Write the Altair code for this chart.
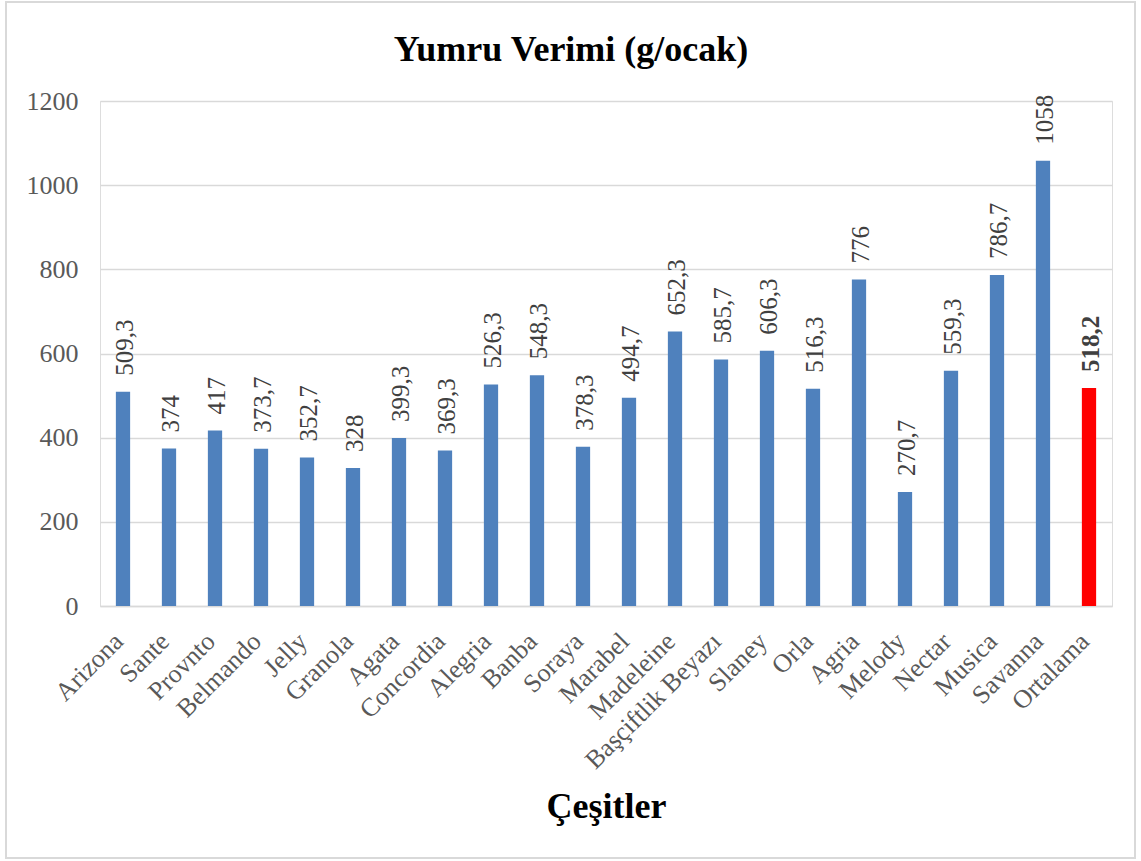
import altair as alt
import pandas as pd

categories = ["Arizona", "Sante", "Provnto", "Belmando", "Jelly", "Granola", "Agata",
              "Concordia", "Alegria", "Banba", "Soraya", "Marabel", "Madeleine",
              "Başçiftlik Beyazı", "Slaney", "Orla", "Agria", "Melody", "Nectar",
              "Musica", "Savanna", "Ortalama"]
values = [509.3, 374, 417, 373.7, 352.7, 328, 399.3, 369.3, 526.3, 548.3, 378.3,
          494.7, 652.3, 585.7, 606.3, 516.3, 776, 270.7, 559.3, 786.7, 1058, 518.2]
labels = ["509,3", "374", "417", "373,7", "352,7", "328", "399,3", "369,3", "526,3",
          "548,3", "378,3", "494,7", "652,3", "585,7", "606,3", "516,3", "776", "270,7",
          "559,3", "786,7", "1058", "518,2"]
groups = ["Çeşit"] * 21 + ["Ortalama"]

df = pd.DataFrame({"cat": categories, "val": values, "lab": labels, "grp": groups})

FONT = "Liberation Serif"
LABEL_FONT = "Times New Roman, Liberation Serif, serif"

x_enc = alt.X("cat:N", sort=categories,
              scale=alt.Scale(paddingInner=0.69, paddingOuter=0.345),
              axis=alt.Axis(title="Çeşitler", labelAngle=-45, labelAlign="right",
                            labelBaseline="middle", labelPadding=31, labelOffset=-4,
                            ticks=False, domainColor="#d9d9d9", domainWidth=1.5,
                            labelFont=FONT, labelFontSize=26, labelColor="#595959",
                            titleFont=FONT, titleFontSize=36, titleFontWeight="bold",
                            titleColor="#000000", titleX=506, titleY=211,
                            titleBaseline="alphabetic"))

y_enc = alt.Y("val:Q", scale=alt.Scale(domain=[0, 1200]),
              axis=alt.Axis(title=None, values=[0, 200, 400, 600, 800, 1000, 1200],
                            format="d", domain=False, ticks=False, gridColor="#d9d9d9",
                            gridWidth=1.5, labelFont=FONT, labelFontSize=26,
                            labelColor="#595959", labelPadding=22))

base = alt.Chart(df)

bars = base.mark_bar().encode(
    x=x_enc, y=y_enc,
    color=alt.Color("grp:N", scale=alt.Scale(domain=["Çeşit", "Ortalama"],
                                            range=["#4F81BD", "#FF0000"]), legend=None),
)

txt_norm = base.transform_filter(alt.datum.grp == "Çeşit").mark_text(
    angle=270, align="left", baseline="middle", dx=16, dy=2, font=LABEL_FONT,
    fontSize=25, fontWeight=400, color="#404040").encode(
    x=alt.X("cat:N", sort=categories), y="val:Q", text="lab:N")

txt_avg = base.transform_filter(alt.datum.grp == "Ortalama").mark_text(
    angle=270, align="left", baseline="middle", dx=16, dy=2, font=LABEL_FONT,
    fontSize=25, fontWeight="bold", color="#404040").encode(
    x=alt.X("cat:N", sort=categories), y="val:Q", text="lab:N")

one_df = pd.DataFrame({"t": ["Yumru Verimi (g/ocak)"]})
frame = alt.Chart(one_df).mark_rect(fill=None, stroke="#d9d9d9", strokeWidth=2).encode(
    x=alt.value(-94), x2=alt.value(1035), y=alt.value(-99), y2=alt.value(757))

title = alt.Chart(one_df).mark_text(
    font=FONT, fontSize=36, fontWeight="bold", color="#000000",
    align="center", baseline="alphabetic").encode(
    x=alt.value(471), y=alt.value(-40), text="t:N")

chart = alt.layer(frame, title, bars, txt_norm, txt_avg).properties(
    width=1012, height=505,
    padding={"left": 100, "top": 101, "right": 29, "bottom": 255},
    autosize=alt.AutoSizeParams(type="none"),
).configure_view(stroke=None).configure(background="white", font=FONT)

chart.save("out.html", embed_options={"renderer": "svg", "actions": False})
